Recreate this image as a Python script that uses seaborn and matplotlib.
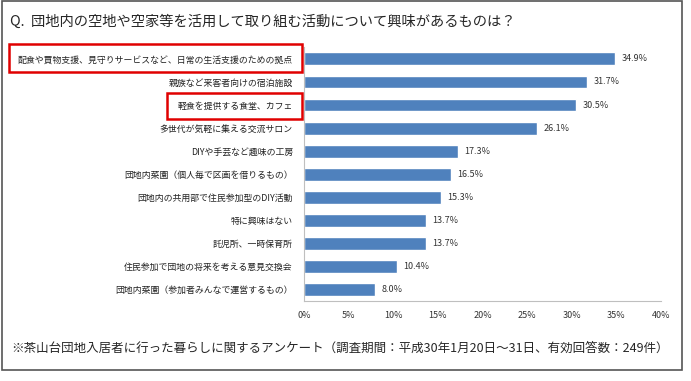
import matplotlib
matplotlib.use('Agg')
import matplotlib.pyplot as plt
import seaborn as sns
import pandas as pd
from matplotlib.patches import Rectangle

categories = [
    '配食や買物支援、見守りサービスなど、日常の生活支援のための拠点',
    '親族など来客者向けの宿泊施設',
    '軽食を提供する食堂、カフェ',
    '多世代が気軽に集える交流サロン',
    'DIYや手芸など趣味の工房',
    '団地内菜園（個人毎で区画を借りるもの）',
    '団地内の共用部で住民参加型のDIY活動',
    '特に興味はない',
    '託児所、一時保育所',
    '住民参加で団地の将来を考える意見交換会',
    '団地内菜園（参加者みんなで運営するもの）',
]
values = [34.9, 31.7, 30.5, 26.1, 17.3, 16.5, 15.3, 13.7, 13.7, 10.4, 8.0]
xticks = [0, 5, 10, 15, 20, 25, 30, 35, 40]
xticklabels = ['0%', '5%', '10%', '15%', '20%', '25%', '30%', '35%', '40%']

title = 'Q.  団地内の空地や空家等を活用して取り組む活動について興味があるものは？'
note = '※茶山台団地入居者に行った暮らしに関するアンケート（調査期間：平成30年1月20日～31日、有効回答数：249件）'

df = pd.DataFrame({'item': categories, 'pct': values})

sns.set_style('white')
plt.rcParams['font.family'] = ['Noto Sans CJK JP', 'DejaVu Sans']

W, H = 691, 381
fig = plt.figure(figsize=(W / 100, H / 100), dpi=100)
ax = fig.add_axes([304 / W, (H - 301) / H, 357 / W, (301 - 47.4) / H])

sns.barplot(data=df, x='pct', y='item', orient='h', color='#4F81BD',
            saturation=1, width=0.56, ax=ax)
ax.bar_label(ax.containers[0], fmt='%.1f%%', padding=4.5, fontsize=6.5, color='#333333')

ax.set_xlim(0, 40)
ax.set_ylim(10.5, -0.5)
ax.set_xticks(xticks)
ax.set_xticklabels(xticklabels, fontsize=6.5, color='#333333')
ax.tick_params(axis='x', length=0, pad=7)
ax.tick_params(axis='y', length=0, pad=8, labelsize=6.4, labelcolor='#222222')
ax.set_xlabel('')
ax.set_ylabel('')
for side in ['top', 'right']:
    ax.spines[side].set_visible(False)
ax.spines['left'].set_color('#bfbfbf')
ax.spines['bottom'].set_color('#bfbfbf')

# outer frame
fig.patches.append(Rectangle((2 / W, (H - 370) / H), 680 / W, 369 / H,
                             transform=fig.transFigure, fill=False,
                             edgecolor='#555555', linewidth=1.2))
# red highlight boxes
for (x0, y0, x1, y1) in [(9, 44, 302, 72), (167, 93, 302, 119)]:
    fig.patches.append(Rectangle((x0 / W, (H - y1) / H), (x1 - x0) / W, (y1 - y0) / H,
                                 transform=fig.transFigure, fill=False,
                                 edgecolor='#e00000', linewidth=1.8))

fig.text(10 / W, (H - 22) / H, title, fontsize=10.3, va='center', ha='left')
fig.text(11 / W, (H - 348) / H, note, fontsize=9, va='center', ha='left')

fig.savefig('out.png', dpi=100)
